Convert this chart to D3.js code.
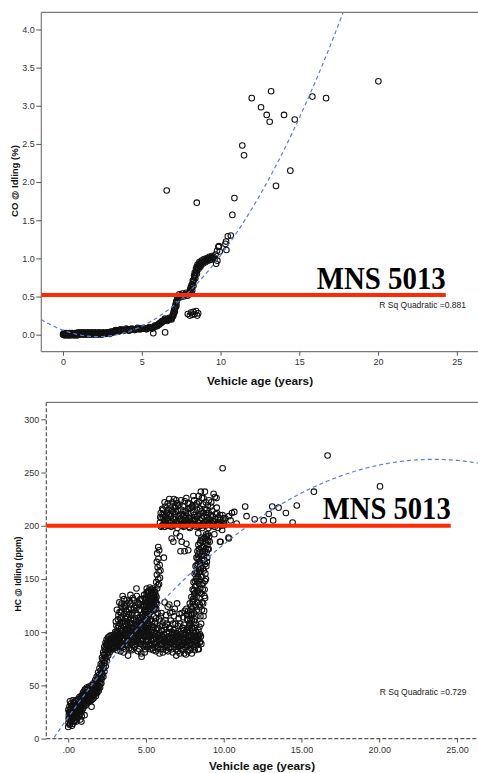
<!DOCTYPE html>
<html>
<head>
<meta charset="utf-8">
<script src="https://cdn.jsdelivr.net/npm/d3@7"></script>
<style>
  body { margin: 0; background: #fff; }
  svg { display: block; }
</style>
</head>
<body>
<svg id="chart" width="478" height="773"></svg>
<script>
// ---------- CO @ idling (%) vs vehicle age (years) ----------
const coBand = [
  [0.00,0.00],[0.03,0.01],[0.06,0.00],[0.10,0.01],[0.14,0.00],[0.19,0.01],[0.23,0.00],[0.28,0.01],
  [0.33,0.00],[0.38,0.01],[0.44,0.01],[0.50,0.00],[0.55,0.01],[0.61,0.01],[0.67,0.00],[0.73,0.01],
  [0.80,0.01],[0.86,0.00],[0.92,0.01],[0.99,0.01],[1.05,0.02],[1.12,0.01],[1.19,0.01],[1.26,0.02],
  [1.33,0.01],[1.40,0.02],[1.48,0.01],[1.55,0.02],[1.62,0.02],[1.70,0.01],[1.78,0.02],[1.85,0.02],
  [1.93,0.01],[2.01,0.02],[2.09,0.02],[2.17,0.01],[2.25,0.02],[2.33,0.02],[2.41,0.02],[2.50,0.01],
  [2.58,0.02],[2.66,0.02],[2.75,0.02],[2.83,0.02],[2.92,0.03],[3.00,0.02],[3.08,0.03],[3.15,0.04],
  [3.22,0.04],[3.30,0.05],[3.38,0.05],[3.46,0.05],[3.55,0.06],[3.63,0.05],[3.72,0.06],[3.80,0.06],
  [3.89,0.06],[3.97,0.06],[4.06,0.07],[4.15,0.06],[4.24,0.07],[4.33,0.07],[4.42,0.07],[4.51,0.07],
  [4.60,0.07],[4.70,0.08],[4.79,0.07],[4.88,0.08],[4.97,0.08],[5.07,0.08],[5.16,0.08],[5.25,0.08],
  [5.35,0.08],[5.44,0.09],[5.53,0.09],[5.62,0.09],[5.71,0.09],[5.79,0.10],[5.86,0.11],[5.93,0.12],
  [6.00,0.13],[6.07,0.14],[6.13,0.15],[6.19,0.16],[6.25,0.17],[6.31,0.18],[6.37,0.18],[6.44,0.19],
  [6.51,0.19],[6.58,0.20],[6.65,0.20],[6.72,0.20],[6.79,0.21],[6.86,0.21],[6.92,0.23],[6.97,0.26],
  [7.01,0.29],[7.05,0.32],[7.09,0.35],[7.13,0.38],[7.17,0.41],[7.21,0.44],[7.25,0.46],[7.30,0.48],
  [7.35,0.50],[7.41,0.51],[7.48,0.51],[7.55,0.52],[7.62,0.52],[7.70,0.52],[7.78,0.53],[7.86,0.53],
  [7.94,0.54],[8.02,0.55],[8.09,0.57],[8.14,0.60],[8.18,0.63],[8.22,0.66],[8.26,0.69],[8.30,0.72],
  [8.34,0.75],[8.38,0.78],[8.42,0.81],[8.46,0.84],[8.51,0.87],[8.56,0.89],[8.62,0.91],[8.69,0.93],
  [8.76,0.94],[8.84,0.95],[8.92,0.96],[9.00,0.97],[9.08,0.98],[9.16,0.99],[9.24,0.99],[9.32,1.00],
  [9.40,1.01],[9.48,1.01],[9.56,1.02],[7.10,0.30],[7.20,0.38],[8.20,0.58],[8.28,0.64],[8.40,0.74],
  [8.50,0.80],[8.60,0.86],[8.72,0.89]
];
const coBandB = [
  [0.05,0.02],[0.12,-0.01],[0.21,0.02],[0.30,-0.01],[0.41,0.02],[0.47,-0.01],[0.58,0.02],[0.70,-0.01],
  [0.77,0.02],[0.89,-0.01],[0.96,0.03],[1.08,0.00],[1.16,0.03],[1.30,0.00],[1.37,0.03],[1.51,0.00],
  [1.59,0.03],[1.74,0.00],[1.82,0.03],[1.97,0.00],[2.05,0.03],[2.21,0.00],[2.29,0.03],[2.45,0.00],
  [2.54,0.03],[2.70,0.01],[2.79,0.03],[2.96,0.01],[3.04,0.04],[3.19,0.03],[3.34,0.06],[3.50,0.04],
  [3.67,0.07],[3.84,0.05],[4.01,0.08],[4.19,0.05],[4.37,0.08],[4.55,0.06],[4.74,0.09],[4.92,0.07],
  [5.11,0.09],[5.30,0.07],[5.48,0.10],[5.66,0.08],[5.83,0.12],[5.97,0.11],[6.10,0.13],[6.22,0.15],
  [6.34,0.17],[6.47,0.21],[6.61,0.18],[6.75,0.22],[6.89,0.20],[6.99,0.24],[7.03,0.27],[7.07,0.34],
  [7.15,0.36],[7.19,0.43],[7.27,0.49],[7.38,0.53],[7.45,0.49],[7.58,0.54],[7.66,0.50],[7.82,0.55],
  [7.90,0.51],[8.00,0.53],[8.07,0.59],[8.11,0.62],[8.16,0.65],[8.24,0.71],[8.32,0.77],[8.36,0.81],
  [8.44,0.86],[8.48,0.89],[8.54,0.92],[8.66,0.95],[8.80,0.97],[8.96,0.99],[9.12,1.00],[9.28,1.02],
  [9.44,1.03],[9.52,1.00],[9.36,0.98],[9.20,0.97],[9.04,0.95],[8.88,0.93],[8.74,0.91],[8.60,0.88]
];
const coCluster = [
  [7.92,0.27],[8.05,0.25],[8.12,0.29],[8.20,0.26],[8.28,0.30],[8.35,0.27],[8.45,0.31],[8.52,0.25],[8.58,0.28]
];
const coSparse = [
  [5.73,0.02],[6.48,0.03],[6.58,1.89],[8.49,1.73],
  [9.62,0.99],[9.68,1.05],[9.72,0.93],[9.80,0.97],[9.86,1.15],[9.90,1.16],[9.95,1.09],[9.78,1.10],
  [10.31,1.19],[10.37,1.11],[10.35,1.22],[10.46,1.29],[10.65,1.30],[10.75,1.57],[10.88,1.79],
  [11.38,2.48],[11.49,2.35],[11.98,3.10],[12.57,2.98],[12.93,2.88],[13.12,2.79],[13.21,3.19],
  [13.52,1.95],[14.03,2.88],[14.43,2.15],[14.71,2.82],[15.83,3.12],[16.70,3.10],[20.02,3.32]
];
const coFit = { a: 0.0587, b: -0.077, c: 0.0175 };   // quadratic fit, R² = 0.881
const coLimit = 0.52;
const coLimitEnd = 24.3;
const coYTicks = [0.0, 0.5, 1.0, 1.5, 2.0, 2.5, 3.0, 3.5, 4.0];
const coXTicks = [0, 5, 10, 15, 20, 25];

// ---------- HC @ idling (ppm) vs vehicle age (years) ----------
const hcBand = [
  [0.00,11],[0.02,15],[0.04,22],[0.01,27],[0.06,18],[0.08,30],[0.10,24],[0.12,14],[0.14,20],[0.16,28],
  [0.18,33],[0.20,17],[0.22,25],[0.25,21],[0.27,30],[0.29,14],[0.32,26],[0.34,19],[0.36,34],[0.39,23],
  [0.41,29],[0.44,17],[0.46,31],[0.48,25],[0.51,21],[0.53,35],[0.56,27],[0.58,19],[0.61,32],[0.63,24],
  [0.66,29],[0.68,37],[0.71,22],[0.73,33],[0.76,27],[0.78,18],[0.81,38],[0.83,30],[0.86,25],[0.88,35],
  [0.91,41],[0.93,28],[0.96,33],[0.98,38],[1.01,44],[1.03,31],[1.06,37],[1.08,42],[1.11,35],[1.13,46],
  [1.16,39],[1.19,33],[1.21,43],[1.24,37],[1.27,47],[1.30,40],[1.33,35],[1.36,44],[1.39,38],[1.42,48],
  [1.45,41],[1.48,36],[1.51,45],[1.54,39],[1.57,49],[1.60,43],[1.63,38],[1.66,47],[1.69,41],[1.72,51],
  [1.75,45],[1.78,40],[1.81,54],[1.84,47],[1.87,43],[1.90,57],[1.93,50],[1.96,45],[1.99,60],[2.02,53],
  [2.05,48],[2.08,64],[2.10,57],[2.13,52],[2.16,69],[2.18,61],[2.21,74],[2.23,66],[2.26,58],[2.28,79],
  [2.31,71],[2.33,63],[2.36,84],[2.38,76],[2.41,68],[2.43,88],[2.46,80],[2.48,73],[2.51,90],[2.54,84],
  [2.57,78],[2.60,92],[2.63,86],[2.66,81],[2.69,93],[2.72,88],[2.75,83],[2.79,94],[2.83,89],[2.87,84],
  [2.91,95],[2.95,90],[2.99,86],[3.04,96],[3.08,91],[3.13,87],[3.18,97],[3.23,92],[3.28,88],[3.33,95],
  [3.38,90],[0.85,16],[1.05,22],[1.50,30],[0.30,36]
];
const hcBandB = [
  [0.03,19],[0.05,25],[0.09,13],[0.11,35],[0.13,27],[0.17,22],[0.19,16],[0.21,31],[0.24,12],[0.26,26],
  [0.28,19],[0.31,31],[0.33,22],[0.35,28],[0.38,16],[0.40,33],[0.43,26],[0.45,21],[0.47,36],[0.50,29],
  [0.52,16],[0.55,23],[0.57,31],[0.60,26],[0.62,37],[0.65,21],[0.67,33],[0.70,27],[0.72,39],[0.75,31],
  [0.77,23],[0.80,34],[0.82,40],[0.85,29],[0.87,21],[0.90,37],[0.92,32],[0.95,43],[0.97,29],[1.00,36],
  [1.02,41],[1.05,33],[1.07,46],[1.10,39],[1.12,31],[1.15,43],[1.18,36],[1.20,48],[1.23,41],[1.26,34],
  [1.29,44],[1.32,38],[1.35,49],[1.38,42],[1.41,35],[1.44,46],[1.47,39],[1.50,50],[1.53,43],[1.56,37],
  [1.59,46],[1.62,52],[1.65,42],[1.68,49],[1.71,44],[1.74,55],[1.77,48],[1.80,43],[1.83,58],[1.86,51],
  [1.89,46],[1.92,62],[1.95,54],[1.98,49],[2.01,66],[2.04,58],[2.07,52],[2.09,70],[2.12,62],[2.15,56],
  [2.17,76],[2.20,68],[2.22,60],[2.25,81],[2.27,73],[2.30,66],[2.32,86],[2.35,79],[2.37,71],[2.40,90],
  [2.42,83],[2.45,76],[2.47,93],[2.50,87],[2.53,81],[2.56,95],[2.59,89],[2.62,83],[2.65,96],[2.68,91],
  [2.71,85],[2.74,97],[2.78,91],[2.82,86],[2.86,97],[2.90,92],[2.94,87],[2.98,98],[3.02,93],[3.07,88],
  [3.12,99],[3.17,94],[3.22,89],[3.27,98],[3.32,93],[3.37,87]
];
const hcCloud = [
  [3.02,100],[3.10,106],[3.15,83],[3.20,112],[3.24,98],[3.30,119],[3.35,86],[3.40,104],[3.44,127],[3.47,93],
  [3.50,134],[3.53,110],[3.57,81],[3.60,117],[3.63,99],[3.66,124],[3.70,88],[3.73,107],[3.76,130],[3.79,95],
  [3.82,114],[3.85,78],[3.88,102],[3.91,121],[3.94,90],[3.97,109],[4.00,127],[4.03,84],[4.06,97],[4.09,116],
  [4.12,104],[4.15,132],[4.18,91],[4.21,111],[4.24,123],[4.27,86],[4.30,100],[4.33,118],[4.36,94],[4.39,141],
  [4.42,107],[4.45,128],[4.48,82],[4.51,113],[4.54,98],[4.57,121],[4.60,89],[4.63,105],[4.66,131],[4.69,95],
  [4.72,77],[4.75,116],[4.78,102],[4.81,124],[4.84,87],[4.87,110],[4.90,96],[4.93,119],[4.96,84],[4.99,106],
  [5.02,92],[5.05,114],[5.08,100],[5.11,86],[5.14,109],[5.17,95],[5.20,117],[5.23,89],[5.26,103],
  [3.05,92],[3.18,95],[3.28,90],[3.38,96],[3.48,101],[3.58,92],[3.68,97],[3.78,103],[3.88,93],[3.98,99],
  [4.08,90],[4.18,103],[4.28,95],[4.38,89],[4.48,101],[4.58,96],[4.68,108],[4.78,93],[4.88,100],[4.98,115],
  [5.08,108],[5.18,98],[3.22,88],[3.42,114],[3.62,108],[3.82,88],[4.02,112],[4.22,98],[4.42,92],[4.62,114],
  [4.82,98],[5.02,104],[3.12,95],[3.32,108],[3.52,88],[3.72,115],[3.92,104],[4.12,88],[4.32,107],[4.52,90],
  [4.72,99],[4.92,88],[5.12,120],[5.30,112],[5.45,105],[5.60,110],[5.75,118],[5.55,100],[5.90,106],[4.70,80]
];
const hcCloudB = [
  [3.01,85],[3.06,110],[3.09,97],[3.13,121],[3.16,89],[3.19,104],[3.23,116],[3.26,93],[3.29,128],[3.33,101],
  [3.36,82],[3.39,119],[3.43,97],[3.46,109],[3.49,123],[3.52,86],[3.55,102],[3.59,131],[3.62,94],[3.65,113],
  [3.68,84],[3.71,120],[3.74,99],[3.77,110],[3.80,127],[3.83,92],[3.86,106],[3.89,117],[3.92,85],[3.95,129],
  [3.99,101],[4.01,93],[4.04,122],[4.07,108],[4.10,83],[4.13,118],[4.16,96],[4.19,112],[4.23,130],[4.26,103],
  [4.29,88],[4.32,125],[4.35,110],[4.38,98],[4.41,134],[4.44,116],[4.47,91],[4.50,105],[4.53,127],[4.56,84],
  [4.59,111],[4.62,99],[4.65,121],[4.68,89],[4.71,113],[4.74,104],[4.77,131],[4.80,92],[4.83,117],[4.86,103],
  [4.89,125],[4.92,81],[4.95,111],[4.98,98],[5.01,119],[5.04,87],[5.07,113],[5.10,102],[5.13,93],[5.16,115],
  [5.19,106],[5.22,97],[5.25,111],[5.28,84],
  [3.15,100],[3.35,113],[3.55,95],[3.75,101],[3.95,96],[4.15,100],[4.35,101],[4.55,107],[4.75,94],[4.95,102],
  [5.15,91],[3.25,106],[3.45,88],[3.65,103],[3.85,97],[4.05,105],[4.25,92],[4.45,110],[4.65,97],[4.85,107],
  [5.05,96],[5.25,122],[3.40,125],[3.60,125],[3.80,119],[4.00,135],[4.20,121],[4.40,123],[4.60,130],[4.80,114],
  [5.00,128]
];
const hcBlob = [
  [4.85,126],[4.92,132],[4.98,122],[5.03,137],[5.07,128],[5.11,133],[5.15,124],[5.19,139],[5.22,130],[5.26,135],
  [5.30,126],[5.33,140],[5.37,131],[5.40,123],[5.44,136],[5.47,128],[5.51,133],[5.54,125],[5.58,138],[5.62,130],
  [5.66,122],[5.70,127],[5.10,120],[5.30,119],[5.50,121],[5.05,141],[5.25,142],[5.45,141],[5.35,135],[5.15,129],
  [5.55,129],[5.62,135],[4.95,127],[5.20,125],
  [4.88,135],[4.90,121],[5.00,131],[5.02,125],[5.08,138],[5.12,127],[5.18,134],[5.24,122],[5.28,131],[5.32,129],
  [5.38,139],[5.42,127],[5.46,132],[5.52,138],[5.56,124],[5.60,132],[5.64,127],[5.68,133],[5.13,137],[5.41,134]
];
const hcSpike = [
  [5.72,141],[5.84,145],[5.79,150],[5.70,154],[5.82,157],[5.75,161],[5.88,163],[5.70,166],[5.80,169],
  [6.15,170],[5.72,174],[5.85,177],[5.79,180],[5.90,151],[5.66,147],[5.93,158],[5.76,144]
];
const hcShelf = [
  [5.30,96],[5.36,88],[5.42,102],[5.47,83],[5.52,94],[5.57,108],[5.62,90],[5.67,99],[5.72,85],[5.77,104],
  [5.82,92],[5.87,80],[5.92,97],[5.97,88],[6.02,101],[6.07,93],[6.12,84],[6.17,98],[6.22,90],[6.27,105],
  [6.32,87],[6.37,95],[6.42,82],[6.47,100],[6.52,91],[6.57,86],[6.62,97],[6.67,93],[6.72,81],[6.77,102],
  [6.82,89],[6.87,95],[6.92,84],[6.97,99],[7.02,91],[7.07,86],[7.12,96],[7.17,80],[7.22,93],[7.27,101],
  [7.32,88],[7.37,95],[7.42,84],[7.47,98],[7.52,90],[7.57,79],[7.62,94],[7.67,87],[7.72,100],[7.77,92],
  [7.82,83],[7.87,97],[7.92,89],[7.97,104],[8.02,93],[8.07,86],[8.12,99],[8.17,91],[8.22,107],[8.27,95],
  [8.32,88],[8.37,102],[8.42,94],[8.47,98],[8.56,89],
  [5.35,92],[5.45,97],[5.55,86],[5.65,94],[5.75,97],[5.85,88],[5.95,93],[6.05,89],[6.15,95],[6.25,86],
  [6.35,91],[6.45,96],[6.55,94],[6.65,89],[6.75,92],[6.85,99],[6.95,94],[7.05,97],[7.15,90],[7.25,87],
  [7.35,91],[7.45,93],[7.55,97],[7.65,91],[7.75,95],[7.85,90],[7.95,93],[8.05,97],[8.15,95],[8.25,90],
  [8.35,96],[8.45,90],
  [5.50,115],[5.60,121],[5.85,112],[6.00,118],[6.10,109],[6.30,116],[6.40,124],[6.60,111],[6.70,119],[6.90,108],
  [7.00,127],[7.10,113],[7.30,118],[7.45,107],[7.60,122],[7.70,112],[7.90,117],[8.00,128],[8.10,110],[8.30,121],
  [8.50,115],[6.20,128],[6.50,104],[6.80,115],[7.20,108],[7.50,120],[7.80,106],[5.40,110],[6.50,126]
];
const hcShelfB = [
  [5.33,100],[5.39,85],[5.44,93],[5.49,104],[5.54,89],[5.59,96],[5.64,82],[5.69,103],[5.74,91],[5.79,86],
  [5.84,99],[5.89,94],[5.94,84],[5.99,102],[6.04,96],[6.09,81],[6.14,91],[6.19,102],[6.24,94],[6.29,83],
  [6.34,99],[6.39,88],[6.44,93],[6.49,85],[6.54,103],[6.59,90],[6.64,84],[6.69,100],[6.74,95],[6.79,86],
  [6.84,92],[6.89,103],[6.94,88],[6.99,96],[7.04,82],[7.09,101],[7.14,93],[7.19,87],[7.24,98],[7.29,84],
  [7.34,99],[7.39,89],[7.44,102],[7.49,86],[7.54,95],[7.59,88],[7.64,102],[7.69,82],[7.74,97],[7.79,88],
  [7.84,101],[7.89,85],[7.94,96],[7.99,88],[8.04,101],[8.09,91],[8.14,83],[8.19,96],[8.24,100],[8.29,92],
  [8.34,84],[8.39,97],[8.44,105],[8.49,91],[8.53,96],
  [5.65,113],[5.95,115],[6.25,111],[6.55,118],[6.85,122],[7.15,117],[7.40,114],[7.65,116],[7.95,111],[8.25,115],
  [8.45,124],[6.05,106],[6.35,108],[6.75,108],[7.05,106],[7.35,104],[7.75,105],[8.15,104],[8.55,108],[6.95,78],
  [7.45,80],[7.95,80],[8.40,84]
];
const hcRise = [
  [7.65,112],[7.72,120],[7.78,108],[7.82,127],[7.88,116],[7.92,133],[7.96,122],[8.00,140],[8.03,129],[8.06,147],
  [8.10,136],[8.13,155],[8.16,143],[8.19,162],[8.22,150],[8.25,170],[8.28,157],[8.31,176],[8.34,164],[8.37,182],
  [8.40,169],[8.43,150],[8.46,175],[8.49,158],[8.52,186],[8.55,165],[8.58,145],[8.61,172],[8.64,180],[8.67,160],
  [8.70,188],[8.73,168],[8.76,134],[8.79,176],[8.82,155],[8.85,184],[8.88,162],[8.91,190],[8.94,170],[8.97,178],
  [8.70,115],[8.60,128],[8.35,138],[8.45,132],[8.20,124],[8.10,118],[7.95,104],[8.55,152],[8.30,148],[8.40,156],
  [8.65,140],[8.80,148],[9.00,186],[8.25,133],[8.50,141],
  [7.70,104],[7.75,116],[7.85,111],[7.90,124],[7.98,117],[8.02,131],[8.05,124],[8.08,139],[8.12,131],[8.15,148],
  [8.18,137],[8.21,156],[8.24,144],[8.27,163],[8.29,139],[8.32,169],[8.33,152],[8.36,173],[8.38,160],[8.41,178],
  [8.42,145],[8.44,166],[8.47,184],[8.48,137],[8.51,171],[8.53,160],[8.54,179],[8.57,136],[8.59,168],[8.62,187],
  [8.63,152],[8.66,176],[8.68,146],[8.71,181],[8.72,158],[8.75,172],[8.77,140],[8.78,189],[8.81,164],[8.83,178],
  [8.86,150],[8.87,192],[8.90,175],[8.92,166],[8.95,182],[8.98,192],[9.03,178],[9.06,190],[8.60,121],[8.68,127],
  [8.74,120],[8.80,132],[8.46,126],[8.30,128],[8.15,112]
];
const hcUpper = [
  [5.90,203],[5.95,212],[6.00,207],[6.05,216],[6.10,201],[6.15,210],[6.20,205],[6.25,218],[6.30,202],[6.35,212],
  [6.40,207],[6.45,215],[6.50,200],[6.55,219],[6.60,209],[6.65,204],[6.70,222],[6.75,213],[6.80,201],[6.85,217],
  [6.90,208],[6.95,224],[7.00,203],[7.05,214],[7.10,209],[7.15,220],[7.20,201],[7.25,224],[7.30,211],[7.35,206],
  [7.40,218],[7.45,203],[7.50,214],[7.55,209],[7.60,226],[7.65,201],[7.70,216],[7.75,207],[7.80,221],[7.85,203],
  [7.90,212],[7.95,218],[8.00,205],[8.05,228],[8.10,210],[8.15,201],[8.20,219],[8.25,208],[8.30,215],[8.35,203],
  [8.40,222],[8.45,211],[8.50,205],[8.53,232],[8.58,214],[8.63,202],[8.68,220],[8.73,209],[8.79,232],[8.84,204],
  [8.89,215],[8.94,208],[8.99,202],[9.04,212],[9.10,206],[9.16,218],[9.22,203],[9.28,209],[9.35,230],[9.40,204],
  [9.43,227],[9.48,211],[9.54,226],[9.60,203],[9.66,208],[9.72,201],[9.78,206],[9.85,203],[9.92,210],[10.00,204],
  [10.10,207],
  [6.02,200],[6.22,199],[6.42,204],[6.62,199],[6.82,206],[7.02,198],[7.22,206],[7.42,199],[7.62,205],[7.82,198],
  [8.02,201],[8.22,199],[8.42,203],[8.62,198],[8.82,200],[9.02,198],[9.22,200],[9.42,199],[9.62,198],[6.12,208],
  [6.32,206],[6.52,211],[6.72,207],[6.92,213],[7.12,204],[7.32,201],[7.52,207],[7.72,203],[7.92,206],[8.12,205],
  [8.32,209],[8.52,200],[8.72,203],[8.92,205],[9.12,201],[9.32,204],[6.20,222],[6.50,225],[6.90,219],[7.80,216],
  [8.10,224],[8.60,226],[9.20,222]
];
const hcUpperB = [
  [5.92,208],[5.97,199],[6.07,211],[6.17,203],[6.27,209],[6.37,200],[6.47,210],[6.57,203],[6.67,214],[6.77,200],
  [6.87,211],[6.97,204],[7.07,219],[7.17,206],[7.27,215],[7.37,200],[7.47,210],[7.57,202],[7.67,212],[7.77,199],
  [7.87,217],[7.97,202],[8.07,213],[8.17,206],[8.27,221],[8.37,199],[8.47,216],[8.57,207],[8.67,212],[8.77,216],
  [8.87,210],[8.97,219],[9.07,203],[9.17,210],[9.27,214],[9.37,201],[9.47,206],[9.57,212],[9.67,202],[9.77,210],
  [9.87,200],[9.97,207],[10.05,201],[6.40,221],[6.60,216],[6.80,225],[7.00,221],[7.50,223],[7.70,221],[8.00,219],
  [8.40,228],[8.70,226],[8.85,222],[9.05,224],[9.55,217],[6.10,215],[7.40,209],[8.90,212]
];
const hcGap = [
  [6.65,188],[6.76,185],[7.18,190],[7.30,185],[7.22,176],[7.48,176],[7.72,177],[8.36,193],[8.57,189],[8.90,187],
  [9.10,185],[9.80,185],[10.31,189],[9.76,185],[10.33,188],[6.95,193],[7.60,183],[9.40,192],[9.90,196]
];
const hcSparse = [
  [9.93,254],[10.33,209],[10.44,205],[10.53,212],[10.68,213],[10.83,202],[11.38,218],[11.47,209],[11.99,206],
  [12.57,205],[12.90,211],[13.12,218],[13.18,205],[13.53,217],[14.00,212],[14.43,203],[14.70,219],[15.80,232],
  [16.68,266],[20.05,237]
];
const hcFit = { a: 20.17, b: 20.62, c: -0.4388 };   // quadratic fit, R² = 0.729
const hcLimit = 200;
const hcLimitEnd = 24.6;
const hcYTicks = [0, 50, 100, 150, 200, 250, 300];
const hcXTicks = [0, 5, 10, 15, 20, 25];

const svg = d3.select("#chart");
svg.append("rect").attr("width", 478).attr("height", 773).attr("fill", "#fff");

const panels = [
  {
    id: "co",
    left: 41.3, right: 489.9, top: 12.3, bottom: 351.7,
    xDomain: [-1.38, 27.1], yDomain: [-0.223, 4.225],
    points: [...coBand, ...coBandB, ...coCluster, ...coSparse],
    fit: coFit, limit: coLimit, limitEnd: coLimitEnd,
    yTicks: coYTicks, xTicks: coXTicks,
    yFormat: d3.format(".1f"), xFormat: d3.format("d"),
    yPad: 1.5, xPad: 3,
    dashedFrame: false,
    yTitle: "CO @ Idling (%)", yTitleX: 17.5, yTitleY: 181, yTitleLen: 72,
    xTitleX: 260, xTitleY: 385,
    rsq: "R Sq Quadratic =0.881", rsqX: 466, rsqY: 307.5,
    mnsSize: 32, mnsLen: 129, mnsOffset: 6.5
  },
  {
    id: "hc",
    left: 46.3, right: 489.6, top: 402.3, bottom: 738.6,
    xDomain: [-1.41, 27.1], yDomain: [0, 316],
    points: [...hcBand, ...hcBandB, ...hcCloud, ...hcCloudB, ...hcBlob, ...hcSpike, ...hcShelf, ...hcShelfB,
             ...hcRise, ...hcUpper, ...hcUpperB, ...hcGap, ...hcSparse],
    fit: hcFit, limit: hcLimit, limitEnd: hcLimitEnd,
    yTicks: hcYTicks, xTicks: hcXTicks,
    yFormat: d3.format("d"), xFormat: v => d3.format(".2f")(v).replace(/^0\./, "."),
    yPad: 2, xPad: 4,
    dashedFrame: true,
    yTitle: "HC @ Idling (ppm)", yTitleX: 20.5, yTitleY: 574, yTitleLen: 75,
    xTitleX: 262, xTitleY: 770,
    rsq: "R Sq Quadratic =0.729", rsqX: 466.5, rsqY: 694.5,
    mnsSize: 31, mnsLen: 128, mnsOffset: 6.7
  }
];

function drawPanel(cfg) {
  const g = svg.append("g").attr("class", "panel-" + cfg.id);
  const x = d3.scaleLinear().domain(cfg.xDomain).range([cfg.left, cfg.right]);
  const y = d3.scaleLinear().domain(cfg.yDomain).range([cfg.bottom, cfg.top]);

  const clipId = "clip-" + cfg.id;
  svg.append("clipPath").attr("id", clipId).append("rect")
    .attr("x", cfg.left).attr("y", cfg.top)
    .attr("width", cfg.right - cfg.left).attr("height", cfg.bottom - cfg.top);

  const plot = g.append("g").attr("clip-path", `url(#${clipId})`);

  // observations: open circles
  plot.append("g").selectAll("circle").data(cfg.points).join("circle")
    .attr("cx", d => x(d[0])).attr("cy", d => y(d[1]))
    .attr("r", 2.8)
    .attr("fill", "none").attr("stroke", "#111").attr("stroke-width", 1.05);

  // quadratic fit line
  const fitAges = d3.range(cfg.xDomain[0], cfg.xDomain[1] + 0.05, 0.05);
  const fitLine = d3.line()
    .x(t => x(t))
    .y(t => y(cfg.fit.a + cfg.fit.b * t + cfg.fit.c * t * t));
  plot.append("path").attr("d", fitLine(fitAges))
    .attr("fill", "none").attr("stroke", "#5b7fd6")
    .attr("stroke-width", 1.2).attr("stroke-dasharray", "4,3");

  // frame
  const frameColor = "#7a7a7a";
  g.append("line").attr("x1", cfg.left).attr("x2", 478).attr("y1", cfg.top).attr("y2", cfg.top)
    .attr("stroke", frameColor).attr("stroke-width", 1.2);
  const sides = [
    [cfg.left, cfg.top, cfg.left, cfg.bottom],
    [cfg.left, cfg.bottom, 478, cfg.bottom]
  ];
  sides.forEach(s => {
    g.append("line").attr("x1", s[0]).attr("y1", s[1]).attr("x2", s[2]).attr("y2", s[3])
      .attr("stroke", cfg.dashedFrame ? "#555" : frameColor).attr("stroke-width", 1.2)
      .attr("stroke-dasharray", cfg.dashedFrame ? "4,2" : null);
  });

  // axes
  const yAxis = d3.axisLeft(y).tickValues(cfg.yTicks).tickFormat(cfg.yFormat)
    .tickSize(5).tickPadding(cfg.yPad);
  const yg = g.append("g").attr("transform", `translate(${cfg.left},0)`).call(yAxis);
  const xAxis = d3.axisBottom(x).tickValues(cfg.xTicks).tickFormat(cfg.xFormat)
    .tickSize(4).tickPadding(cfg.xPad);
  const xg = g.append("g").attr("transform", `translate(0,${cfg.bottom})`).call(xAxis);
  [yg, xg].forEach(ax => {
    ax.select(".domain").remove();
    ax.selectAll(".tick line").attr("stroke", "#555").attr("stroke-width", 1);
    ax.selectAll(".tick text")
      .attr("fill", "#333")
      .style("font-family", "'Liberation Sans', Arial, sans-serif")
      .style("font-size", "9px");
  });

  // axis titles
  g.append("text")
    .attr("transform", `translate(${cfg.yTitleX},${cfg.yTitleY}) rotate(-90)`)
    .attr("text-anchor", "middle")
    .attr("textLength", cfg.yTitleLen).attr("lengthAdjust", "spacingAndGlyphs")
    .style("font-family", "'Liberation Sans', Arial, sans-serif")
    .style("font-size", "9.5px").style("font-weight", "bold").attr("fill", "#111")
    .text(cfg.yTitle);
  g.append("text")
    .attr("x", cfg.xTitleX).attr("y", cfg.xTitleY)
    .attr("text-anchor", "middle")
    .style("font-family", "'Liberation Sans', Arial, sans-serif")
    .style("font-size", "11.8px").style("font-weight", "bold").attr("fill", "#111")
    .text("Vehicle age (years)");

  // R² annotation
  g.append("text")
    .attr("x", cfg.rsqX).attr("y", cfg.rsqY)
    .attr("text-anchor", "end")
    .style("font-family", "'Liberation Sans', Arial, sans-serif")
    .style("font-size", "8.5px").attr("fill", "#222")
    .text(cfg.rsq);

  // regulatory limit line and label
  g.append("line")
    .attr("x1", x(cfg.xDomain[0])).attr("x2", x(cfg.limitEnd))
    .attr("y1", y(cfg.limit)).attr("y2", y(cfg.limit))
    .attr("stroke", "#ff2a00").attr("stroke-width", 4);
  g.append("text")
    .attr("x", x(cfg.limitEnd)).attr("y", y(cfg.limit) - cfg.mnsOffset)
    .attr("text-anchor", "end")
    .attr("textLength", cfg.mnsLen).attr("lengthAdjust", "spacingAndGlyphs")
    .style("font-family", "'Liberation Serif', 'Times New Roman', serif")
    .style("font-size", cfg.mnsSize + "px").style("font-weight", "bold").attr("fill", "#000")
    .text("MNS 5013");
}

panels.forEach(drawPanel);
</script>
</body>
</html>
